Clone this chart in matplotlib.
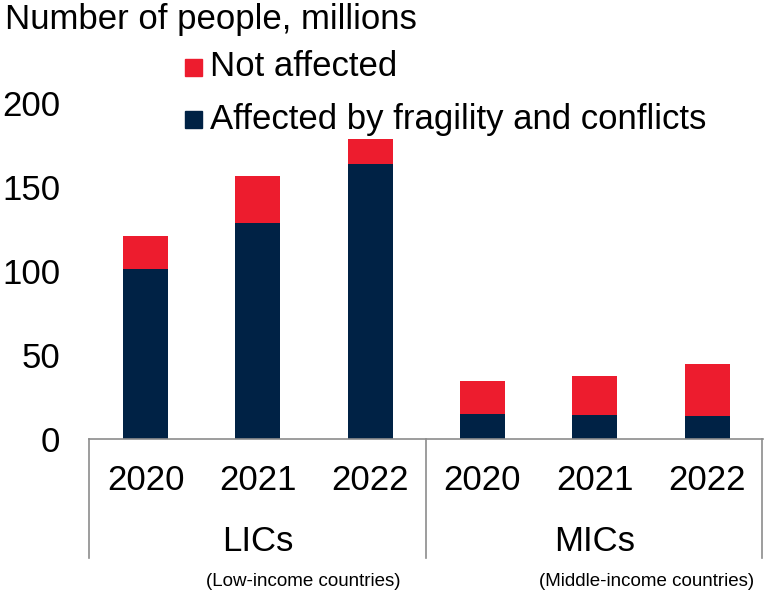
import numpy as np
import matplotlib.pyplot as plt
from matplotlib.patches import Rectangle
from matplotlib.transforms import blended_transform_factory

plt.rcParams['font.family'] = ['Liberation Sans', 'DejaVu Sans']

years = ["2020", "2021", "2022", "2020", "2021", "2022"]
groups = ["LICs", "MICs"]
group_notes = ["(Low-income countries)", "(Middle-income countries)"]
series_names = ["Not affected", "Affected by fragility and conflicts"]
affected = [101, 128.3, 163.7, 15.0, 14.2, 13.6]
total = [120.8, 156.7, 178.7, 34.2, 37.6, 44.8]
not_affected = [t - a for t, a in zip(total, affected)]

navy = "#002245"
red = "#ED1C2E"
line_grey = "#8C8C8C"
W, H = 764, 594

fig = plt.figure(figsize=(W / 100, H / 100), dpi=100)
ax = fig.add_axes([0.117, 0.261, 0.882, 0.566])

x = np.arange(len(years))
ax.bar(x, affected, width=0.4, color=navy)
ax.bar(x, not_affected, width=0.4, bottom=affected, color=red)

ax.set_xlim(-0.5, 5.5)
ax.set_ylim(0, 200)
ax.set_yticks([0, 50, 100, 150, 200])
ax.tick_params(axis='y', length=0, pad=21, labelsize=25)
ax.set_xticks([])
for side in ["top", "right", "left"]:
    ax.spines[side].set_visible(False)
ax.spines["bottom"].set_color(line_grey)
ax.spines["bottom"].set_linewidth(1.2)

# two-level category axis below the bars
trans = blended_transform_factory(ax.transData, ax.transAxes)
for xi, yr in zip(x, years):
    ax.text(xi, -0.125, yr, transform=trans, ha='center', va='center', fontsize=25)
for gx, g in zip([1, 4], groups):
    ax.text(gx, -0.305, g, transform=trans, ha='center', va='center', fontsize=25)
for sx in [-0.5, 2.5, 5.49]:
    ax.plot([sx, sx], [0, -0.354], transform=trans, color=line_grey, lw=1.2, clip_on=False)

fig.text(303 / W, 1 - 582 / H, group_notes[0], ha='center', va='center', fontsize=13.5)
fig.text(647 / W, 1 - 582 / H, group_notes[1], ha='center', va='center', fontsize=13.5)

fig.text(5 / W, 1 - 19 / H, "Number of people, millions", ha='left', va='center', fontsize=25)

# legend: coloured squares with labels
for yc, col, name in zip([67, 119], [red, navy], series_names):
    fig.patches.append(Rectangle((185 / W, 1 - (yc + 9) / H), 17 / W, 17 / H,
                                 transform=fig.transFigure, color=col))
    fig.text(210 / W, 1 - yc / H, name, ha='left', va='center', fontsize=25)

fig.savefig("out.png", dpi=100)
